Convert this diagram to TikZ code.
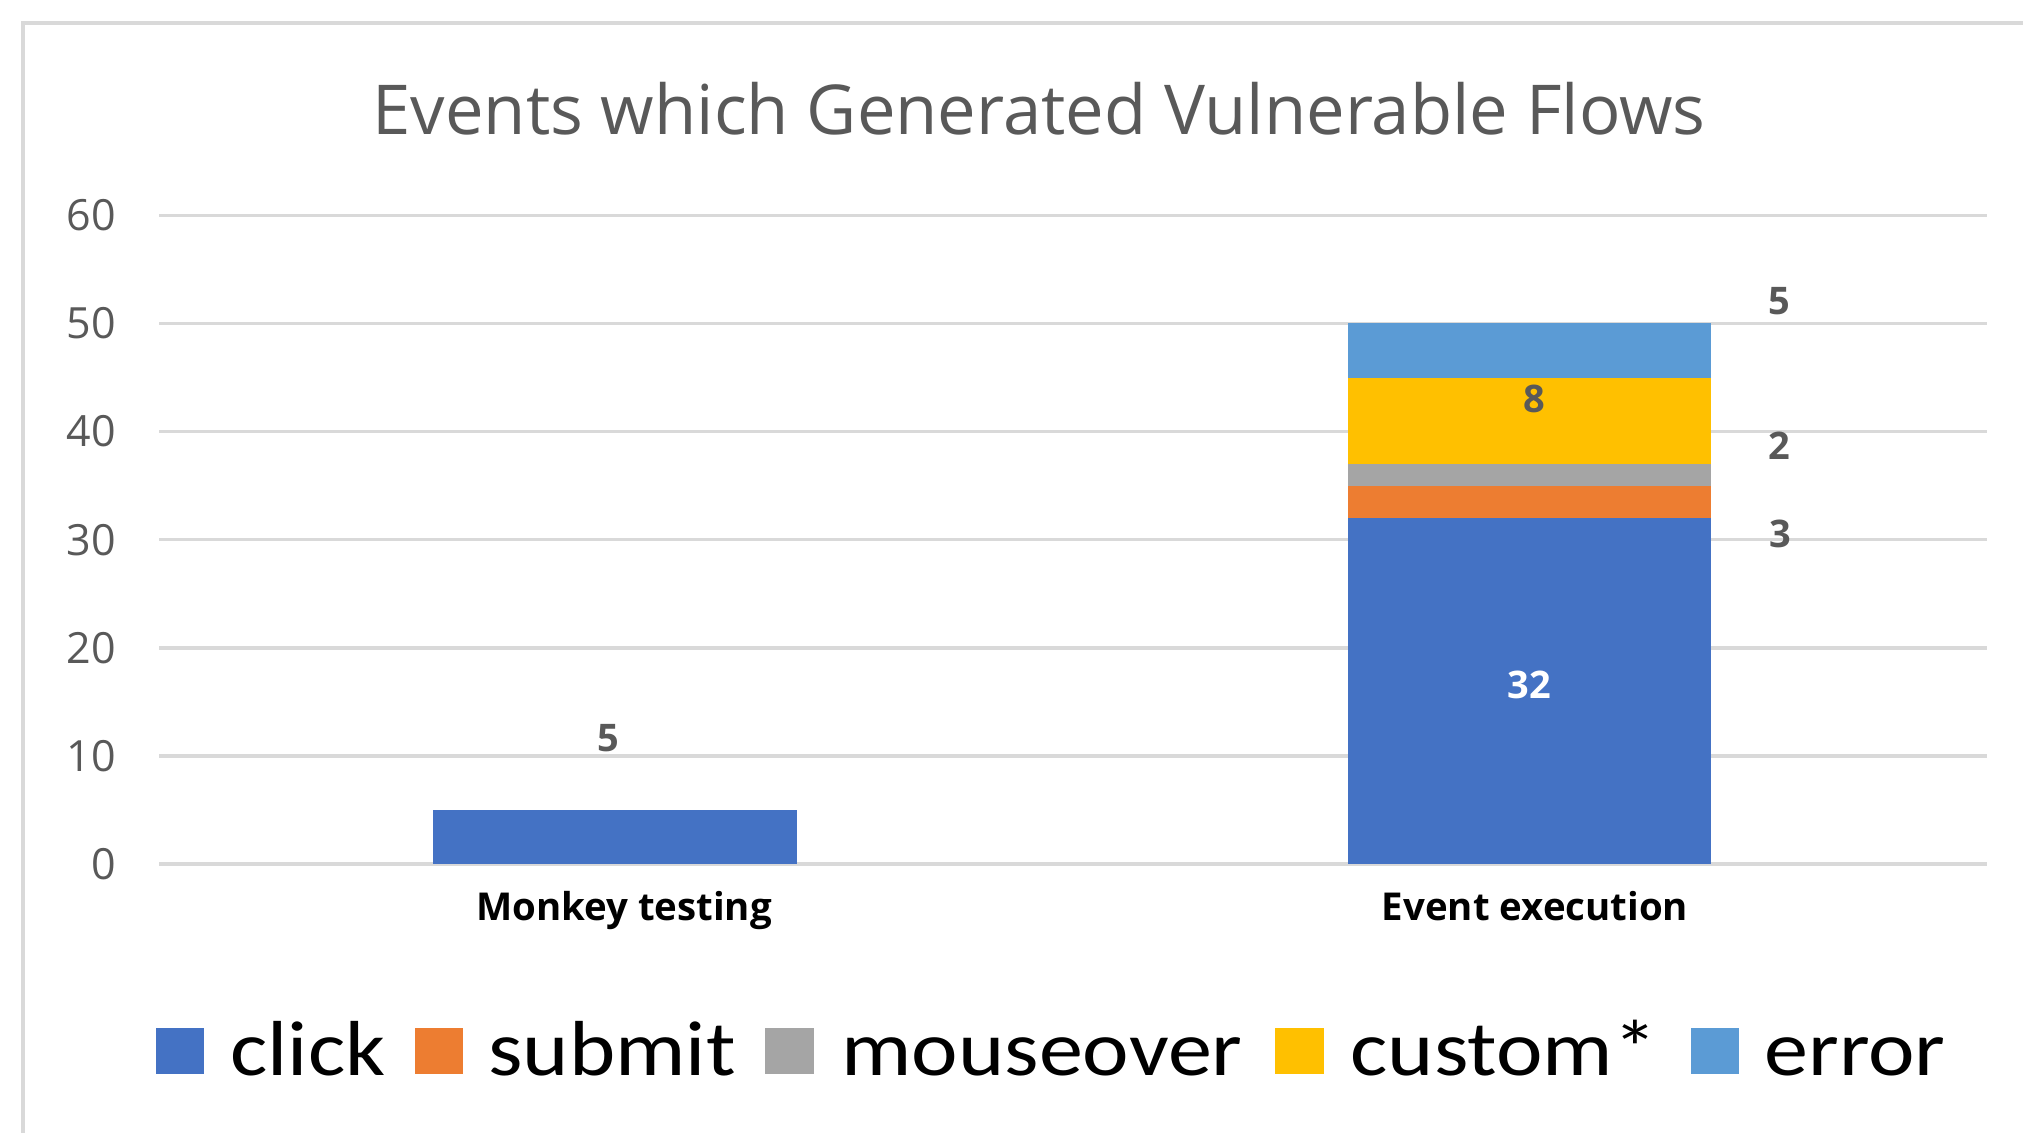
\documentclass[tikz,border=0pt]{standalone}
\usepackage{fontspec}
\setmainfont{Open Sans}
\newfontfamily\legfont{Carlito}
\definecolor{cclick}{HTML}{4472C4}
\definecolor{csubmit}{HTML}{ED7D31}
\definecolor{cmouse}{HTML}{A5A5A5}
\definecolor{ccustom}{HTML}{FFC000}
\definecolor{cerror}{HTML}{5B9BD5}
\definecolor{gridc}{HTML}{D9D9D9}
\definecolor{txtg}{HTML}{595959}
\tikzset{
  gridline/.style={draw=gridc, line width=1.8pt},
  axislab/.style={anchor=east, inner sep=0pt, text=txtg, font=\fontsize{21.5}{25}\selectfont},
  datalab/.style={inner sep=0pt, text=txtg, font=\fontsize{19}{23}\selectfont\bfseries},
  catlab/.style={anchor=base, inner sep=0pt, text=black, font=\fontsize{19.2}{23}\selectfont\bfseries},
  legtext/.style={anchor=base west, inner sep=0pt, text=black, xscale=1.13, font=\legfont\fontsize{39}{45}\selectfont},
}
\begin{document}
\begin{tikzpicture}[x=0.5pt,y=-0.5pt]
\useasboundingbox (0,0) rectangle (2023,1133);
\fill[white] (0,0) rectangle (2023,1133);
\draw[gridc, line width=2pt] (23,1133) -- (23,23) -- (2023,23);
\node[anchor=base, inner sep=0pt, text=txtg, font=\fontsize{34.4}{40}\selectfont] (title) at (1039,135) {Events which Generated Vulnerable Flows};
% grid and axis labels
\foreach \v in {0,10,...,60} {
  \draw[gridline] (159,{864-10.81*\v}) -- (1987,{864-10.81*\v});
  \node[axislab] (ax\v) at (116,{864-10.81*\v}) {\v};
}
% bars
\fill[cclick] (433,864) rectangle (797,{864-10.81*5});
\fill[cclick] (1348,864) rectangle (1711,{864-10.81*32});
\fill[csubmit] (1348,{864-10.81*32}) rectangle (1711,{864-10.81*35});
\fill[cmouse] (1348,{864-10.81*35}) rectangle (1711,{864-10.81*37});
\fill[ccustom] (1348,{864-10.81*37}) rectangle (1711,{864-10.81*45});
\fill[cerror] (1348,{864-10.81*45}) rectangle (1711,{864-10.81*50});
% data labels
\node[datalab] (dm) at (608,738) {5};
\node[datalab, text=white] (d32) at (1529,685) {32};
\node[datalab] (d8) at (1534,399) {8};
\node[datalab] (d3) at (1780,534) {3};
\node[datalab] (d2) at (1779,446) {2};
\node[datalab] (d5) at (1779,301) {5};
% categories
\node[catlab] (c1) at (624,920) {Monkey testing};
\node[catlab] (c2) at (1535,920) {Event execution};
% legend
\fill[cclick] (156,1028) rectangle (204,1074);
\node[legtext] (l1) at (230,1075) {click};
\fill[csubmit] (415,1028) rectangle (463,1074);
\node[legtext] (l2) at (488,1075) {submit};
\fill[cmouse] (765,1028) rectangle (814,1074);
\node[legtext] (l3) at (841,1075) {mouseover};
\fill[ccustom] (1275,1028) rectangle (1324,1074);
\node[legtext] (l4) at (1350,1075) {custom*};
\fill[cerror] (1691,1028) rectangle (1739,1074);
\node[legtext] (l5) at (1764,1075) {error};
\end{tikzpicture}
\end{document}
